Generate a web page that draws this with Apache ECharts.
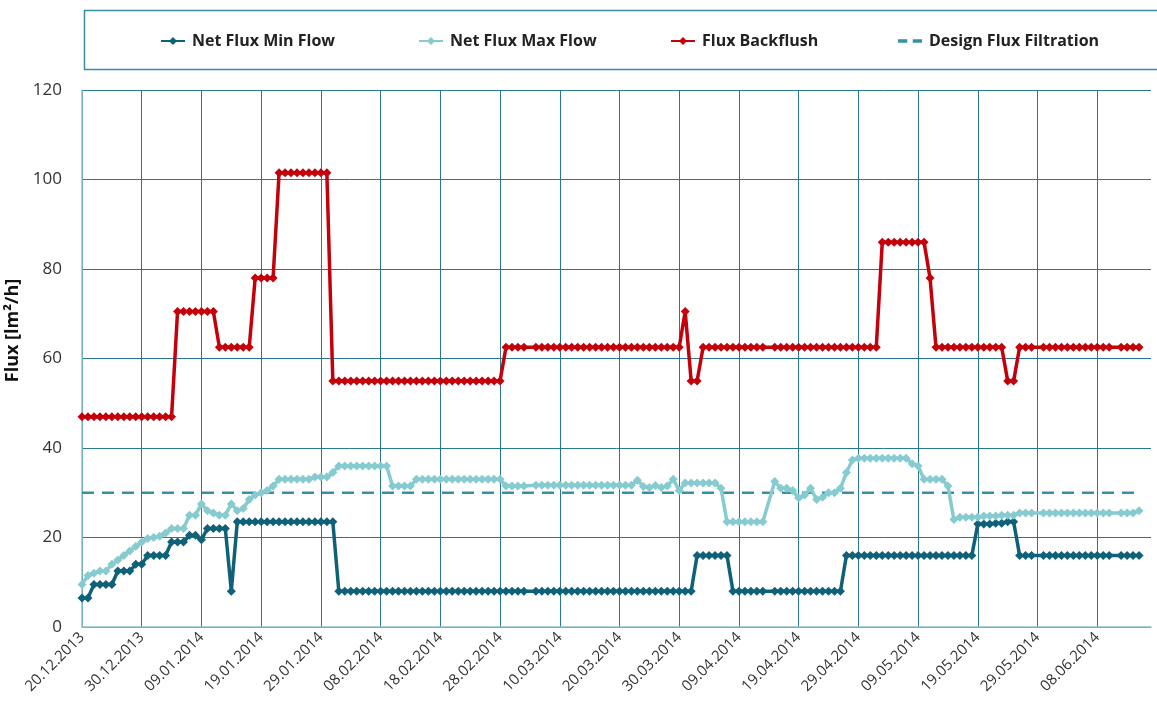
<!DOCTYPE html>
<html>
<head>
<meta charset="utf-8">
<script src="https://cdn.jsdelivr.net/npm/echarts@6/dist/echarts.min.js"></script>
<style>
  html, body { margin: 0; padding: 0; background: #fff; }
  #chart { width: 1157px; height: 718px; }
</style>
</head>
<body>
<div id="chart"></div>
<script>
// daily categories 20.12.2013 .. 17.06.2014
const startDay = Date.UTC(2013, 11, 20)
const dayCount = 180
const dates = []
for (let i = 0; i < dayCount; i++) {
  const d = new Date(startDay + i * 86400000)
  const dd = String(d.getUTCDate()).padStart(2, '0')
  const mm = String(d.getUTCMonth() + 1).padStart(2, '0')
  dates.push(dd + '.' + mm + '.' + d.getUTCFullYear())
}

const yTicks = [0, 20, 40, 60, 80, 100, 120]

// Net Flux Min Flow (one value per day, null = no reading)
const minFlow = [
  6.5, 6.5, 9.5, 9.5, 9.5, 9.5, 12.5, 12.5, 12.5, 14,
  14, 16, 16, 16, 16, 19, 19, 19, 20.5, 20.5,
  19.5, 22, 22, 22, 22, 8, 23.5, 23.5, 23.5, 23.5,
  23.5, 23.5, 23.5, 23.5, 23.5, 23.5, 23.5, 23.5, 23.5, 23.5,
  23.5, 23.5, 23.5, 8, 8, 8, 8, 8, 8, 8,
  8, 8, 8, 8, 8, 8, 8, 8, 8, 8,
  8, 8, 8, 8, 8, 8, 8, 8, 8, 8,
  8, 8, 8, 8, 8, null, 8, 8, 8, 8,
  8, 8, 8, 8, 8, 8, 8, 8, 8, 8,
  8, 8, 8, 8, 8, 8, 8, 8, 8, 8,
  8, 8, 8, 16, 16, 16, 16, 16, 16, 8,
  8, 8, 8, 8, 8, null, 8, 8, 8, 8,
  8, 8, 8, 8, 8, 8, 8, 8, 16, 16,
  16, 16, 16, 16, 16, 16, 16, 16, 16, 16,
  16, 16, 16, 16, 16, 16, 16, 16, 16, 16,
  23, 23, 23, 23.2, 23.2, 23.5, 23.5, 16, 16, 16,
  null, 16, 16, 16, 16, 16, 16, 16, 16, 16,
  16, 16, 16, null, 16, 16, 16, 16
]

// Net Flux Max Flow
const maxFlow = [
  9.5, 11.5, 12, 12.5, 12.5, 14, 15, 16, 17, 18,
  19, 19.8, 20, 20.3, 21, 22, 22, 22, 25, 25,
  27.5, 26, 25.5, 25, 25, 27.5, 26, 26.5, 28.5, 29.5,
  30, 30.5, 31.5, 33, 33, 33, 33, 33, 33, 33.5,
  33.5, 33.5, 34.5, 36, 36, 36, 36, 36, 36, 36,
  36, 36, 31.5, 31.5, 31.5, 31.5, 33, 33, 33, 33,
  33, 33, 33, 33, 33, 33, 33, 33, 33, 33,
  33, 31.5, 31.5, 31.5, 31.5, null, 31.7, 31.7, 31.7, 31.7,
  31.7, 31.7, 31.7, 31.7, 31.7, 31.7, 31.7, 31.7, 31.7, 31.7,
  31.7, 31.7, 31.7, 32.8, 31.4, 31.2, 31.6, 31.2, 31.5, 33,
  30.5, 32.2, 32.2, 32.2, 32.2, 32.2, 32.2, 31, 23.5, 23.5,
  23.5, 23.5, 23.5, 23.5, 23.5, null, 32.5, 31, 31, 30.5,
  28.8, 29.5, 31, 28.5, 29, 30, 30, 31, 34.5, 37.3,
  37.7, 37.7, 37.7, 37.7, 37.7, 37.7, 37.7, 37.7, 37.7, 36.5,
  36, 33, 33, 33, 33, 31.5, 24, 24.5, 24.5, 24.5,
  24.5, 24.8, 24.8, 24.8, 25, 25, 25, 25.5, 25.5, 25.5,
  null, 25.5, 25.5, 25.5, 25.5, 25.5, 25.5, 25.5, 25.5, 25.5,
  25.5, 25.5, 25.5, null, 25.5, 25.5, 25.5, 26
]

// Flux Backflush
const backflush = [
  47, 47, 47, 47, 47, 47, 47, 47, 47, 47,
  47, 47, 47, 47, 47, 47, 70.5, 70.5, 70.5, 70.5,
  70.5, 70.5, 70.5, 62.5, 62.5, 62.5, 62.5, 62.5, 62.5, 78,
  78, 78, 78, 101.5, 101.5, 101.5, 101.5, 101.5, 101.5, 101.5,
  101.5, 101.5, 55, 55, 55, 55, 55, 55, 55, 55,
  55, 55, 55, 55, 55, 55, 55, 55, 55, 55,
  55, 55, 55, 55, 55, 55, 55, 55, 55, 55,
  55, 62.5, 62.5, 62.5, 62.5, null, 62.5, 62.5, 62.5, 62.5,
  62.5, 62.5, 62.5, 62.5, 62.5, 62.5, 62.5, 62.5, 62.5, 62.5,
  62.5, 62.5, 62.5, 62.5, 62.5, 62.5, 62.5, 62.5, 62.5, 62.5,
  62.5, 70.5, 55, 55, 62.5, 62.5, 62.5, 62.5, 62.5, 62.5,
  62.5, 62.5, 62.5, 62.5, 62.5, null, 62.5, 62.5, 62.5, 62.5,
  62.5, 62.5, 62.5, 62.5, 62.5, 62.5, 62.5, 62.5, 62.5, 62.5,
  62.5, 62.5, 62.5, 62.5, 86, 86, 86, 86, 86, 86,
  86, 86, 78, 62.5, 62.5, 62.5, 62.5, 62.5, 62.5, 62.5,
  62.5, 62.5, 62.5, 62.5, 62.5, 55, 55, 62.5, 62.5, 62.5,
  null, 62.5, 62.5, 62.5, 62.5, 62.5, 62.5, 62.5, 62.5, 62.5,
  62.5, 62.5, 62.5, null, 62.5, 62.5, 62.5, 62.5
]

// Design Flux Filtration (constant)
const designFlux = 30
const designFrom = 0
const designTo = 177

const seriesNames = ['Net Flux Min Flow', 'Net Flux Max Flow', 'Flux Backflush', 'Design Flux Filtration']
const legendLeft = [155, 413, 665, 893]

const gridColor = '#2a7890'
const textColor = '#333'
const dashIcon = 'path://M0,0h10v4h-10z M16,0h10v4h-10z'

const chart = echarts.init(document.getElementById('chart'))

function fluxSeries(name, data, color) {
  return {
    name,
    type: 'line',
    data,
    connectNulls: true,
    symbol: 'diamond',
    symbolSize: 9,
    showAllSymbol: true,
    itemStyle: { color },
    lineStyle: { color, width: 3.5 },
    emphasis: { disabled: true },
    animation: false,
  }
}

// one legend block per item so each lands where the original puts it
const legends = seriesNames.map((name, i) => ({
  left: legendLeft[i],
  top: 28,
  itemWidth: 24,
  itemHeight: i === 3 ? 4 : 10,
  itemGap: 0,
  textStyle: { fontSize: 16, fontWeight: 'bold', color: '#222', padding: [0, 0, 0, 2] },
  data: [i === 3 ? { name, icon: dashIcon } : name],
}))

chart.setOption({
  backgroundColor: '#fff',
  textStyle: { fontFamily: 'Open Sans, sans-serif' },
  graphic: [{
    type: 'rect',
    left: 82,
    top: 8,
    shape: { width: 1100, height: 59 },
    style: { fill: 'none', stroke: '#3b8ca2', lineWidth: 1.5 },
  }],
  legend: legends,
  grid: { left: 82, right: 6, top: 90, bottom: 91, outerBoundsMode: 'none' },
  xAxis: {
    type: 'category',
    data: dates,
    boundaryGap: false,
    axisLine: { lineStyle: { color: '#8fc3cf', width: 1.5 } },
    axisTick: { show: false },
    axisLabel: {
      interval: 9,
      rotate: 45,
      fontSize: 15,
      color: textColor,
      margin: 8,
    },
    splitLine: { show: true, interval: 9, lineStyle: { color: gridColor, width: 1 } },
  },
  yAxis: {
    type: 'value',
    min: yTicks[0],
    max: yTicks[yTicks.length - 1],
    interval: 20,
    name: 'Flux [lm²/h]',
    nameLocation: 'middle',
    nameGap: 56,
    nameTextStyle: { fontSize: 18, fontWeight: 'bold', color: '#111', padding: [0, 0, 0, 56] },
    axisLine: { show: true, lineStyle: { color: '#8fc3cf', width: 1.5 } },
    axisTick: { show: false },
    axisLabel: { fontSize: 17, color: textColor, margin: 20 },
    splitLine: { lineStyle: { color: gridColor, width: 1 } },
  },
  series: [
    fluxSeries(seriesNames[0], minFlow, '#0e6179'),
    fluxSeries(seriesNames[1], maxFlow, '#86cbd0'),
    fluxSeries(seriesNames[2], backflush, '#c4000b'),
    {
      name: seriesNames[3],
      type: 'line',
      data: [[designFrom, designFlux], [designTo, designFlux]],
      symbol: 'none',
      lineStyle: { color: '#3591a6', width: 2.5, type: [12, 8] },
      itemStyle: { color: '#3591a6' },
      animation: false,
      z: 1,
    },
  ],
})
</script>
</body>
</html>
